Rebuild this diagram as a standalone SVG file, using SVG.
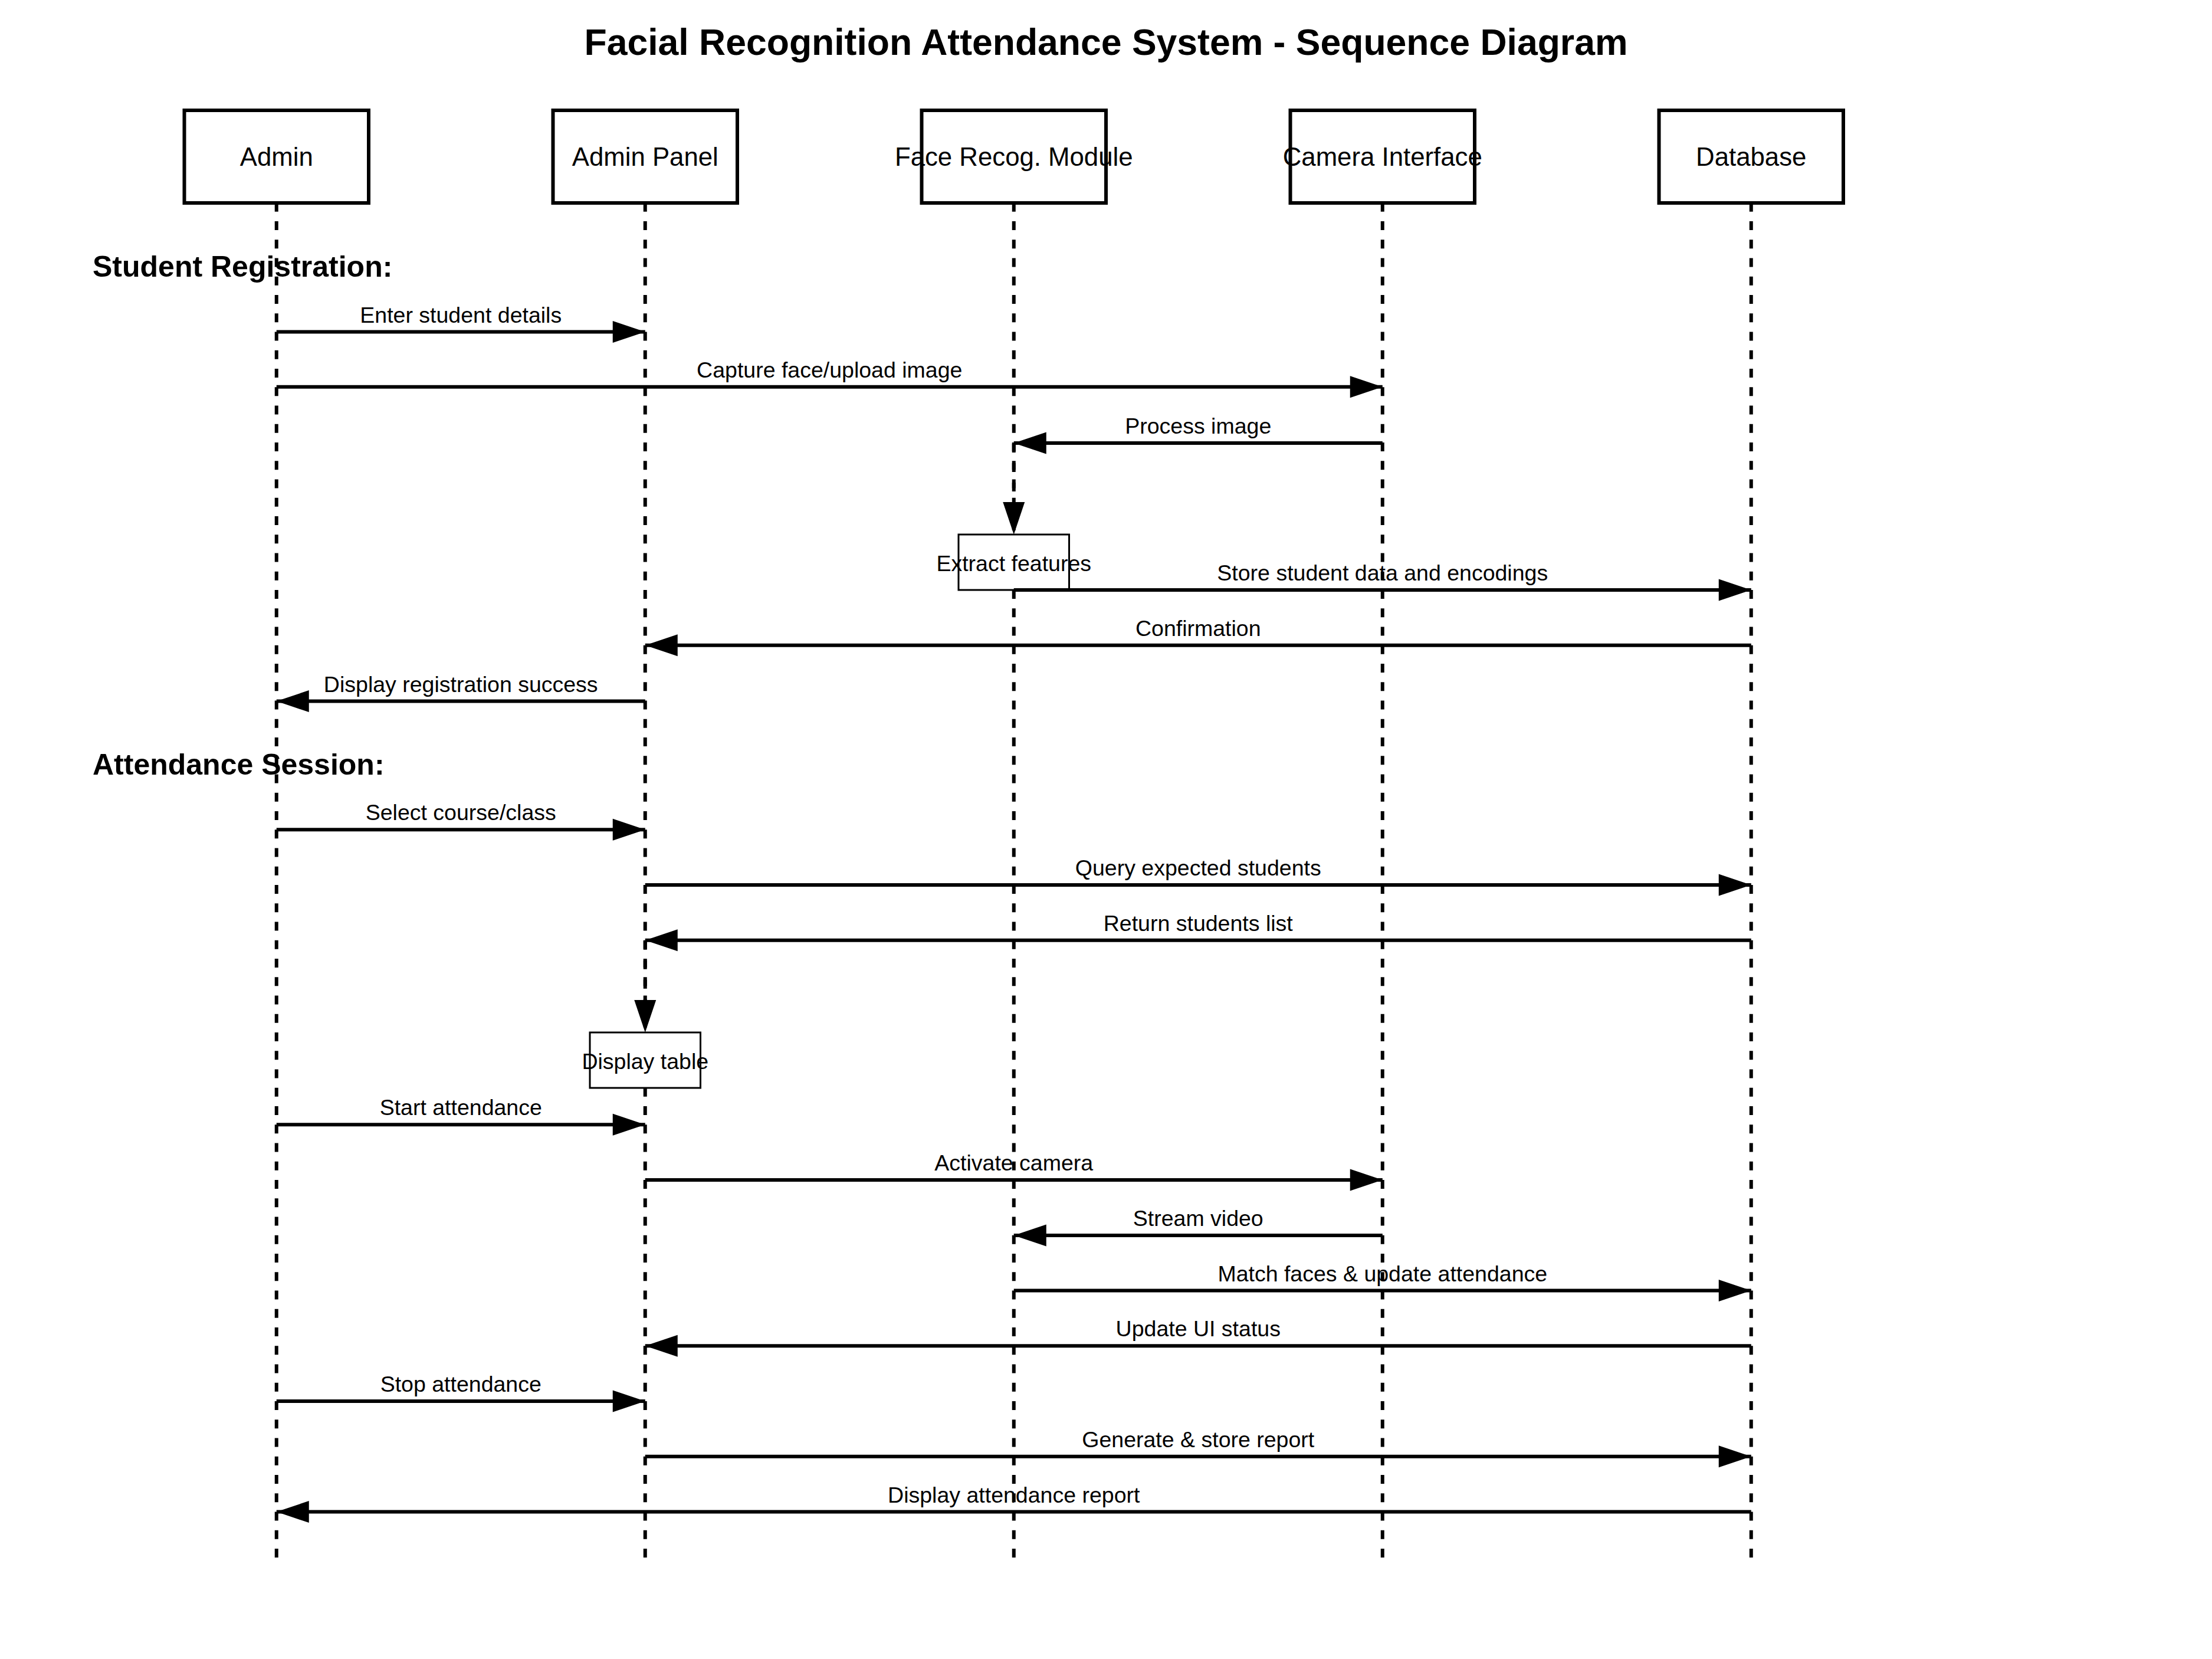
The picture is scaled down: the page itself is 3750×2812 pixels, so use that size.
<svg xmlns="http://www.w3.org/2000/svg" width="3750" height="2812" viewBox="0 0 3750 2812">
<style>
text{font-family:"Liberation Sans",Arial,sans-serif;fill:#000}
.title{font-size:62.5px;font-weight:bold;text-anchor:middle}
.hdr{font-size:50px;font-weight:bold}
.plbl{font-size:43.75px;text-anchor:middle}
.mlbl{font-size:37.5px;text-anchor:middle}
.pbox{fill:#fff;stroke:#000;stroke-width:6}
.abox{fill:#fff;stroke:#000;stroke-width:3}
.life{stroke:#000;stroke-width:6;stroke-dasharray:15 16.25;fill:none}
.msg{stroke:#000;stroke-width:6;fill:none;marker-end:url(#ah)}
.self{stroke:#000;stroke-width:6;fill:none;stroke-dasharray:15 18;marker-end:url(#ah)}
</style>
<defs>
<marker id="ah" markerUnits="userSpaceOnUse" markerWidth="56" markerHeight="38" refX="55" refY="18.5" orient="auto" overflow="visible">
<path d="M0,0 L55,18.5 L0,37 Z" fill="#000" stroke="none"/>
</marker>
</defs>
<rect width="3750" height="2812" fill="#fff"/>
<text class="title" x="1875" y="93">Facial Recognition Attendance System - Sequence Diagram</text>

<g id="lifelines">
<line class="life" x1="468.75" y1="343.75" x2="468.75" y2="2641"/>
<line class="life" x1="1093.75" y1="343.75" x2="1093.75" y2="2641"/>
<line class="life" x1="1718.75" y1="343.75" x2="1718.75" y2="2641"/>
<line class="life" x1="2343.75" y1="343.75" x2="2343.75" y2="2641"/>
<line class="life" x1="2968.75" y1="343.75" x2="2968.75" y2="2641"/>
</g>

<g id="admin"><rect class="pbox" x="312.5" y="187" width="312.5" height="157"/><text class="plbl" x="468.75" y="281">Admin</text></g>
<g id="admin-panel"><rect class="pbox" x="937.5" y="187" width="312.5" height="157"/><text class="plbl" x="1093.75" y="281">Admin Panel</text></g>
<g id="face-recog"><rect class="pbox" x="1562.5" y="187" width="312.5" height="157"/><text class="plbl" x="1718.75" y="281">Face Recog. Module</text></g>
<g id="camera"><rect class="pbox" x="2187.5" y="187" width="312.5" height="157"/><text class="plbl" x="2343.75" y="281">Camera Interface</text></g>
<g id="database"><rect class="pbox" x="2812.5" y="187" width="312.5" height="157"/><text class="plbl" x="2968.75" y="281">Database</text></g>

<text class="hdr" x="157" y="469">Student Registration:</text>
<text class="hdr" x="157" y="1313">Attendance Session:</text>

<g id="extract-features"><rect class="abox" x="1625" y="906" width="187.5" height="94"/><text class="mlbl" x="1718.75" y="968">Extract features</text></g>
<g id="display-table"><rect class="abox" x="1000" y="1750" width="187.5" height="94"/><text class="mlbl" x="1093.75" y="1812">Display table</text></g>

<g id="connectors">
<line class="msg" x1="468.75" y1="562.5" x2="1093.75" y2="562.5"/>
<line class="msg" x1="468.75" y1="655.75" x2="2343.75" y2="655.75"/>
<line class="msg" x1="2343.75" y1="751" x2="1718.75" y2="751"/>
<line class="self" x1="1718.75" y1="752" x2="1718.75" y2="906"/>
<line class="msg" x1="1718.75" y1="1000" x2="2968.75" y2="1000"/>
<line class="msg" x1="2968.75" y1="1093.75" x2="1093.75" y2="1093.75"/>
<line class="msg" x1="1093.75" y1="1188.5" x2="468.75" y2="1188.5"/>
<line class="msg" x1="468.75" y1="1406.25" x2="1093.75" y2="1406.25"/>
<line class="msg" x1="1093.75" y1="1500" x2="2968.75" y2="1500"/>
<line class="msg" x1="2968.75" y1="1593.75" x2="1093.75" y2="1593.75"/>
<line class="self" x1="1093.75" y1="1594.75" x2="1093.75" y2="1750"/>
<line class="msg" x1="468.75" y1="1906.25" x2="1093.75" y2="1906.25"/>
<line class="msg" x1="1093.75" y1="2000" x2="2343.75" y2="2000"/>
<line class="msg" x1="2343.75" y1="2094" x2="1718.75" y2="2094"/>
<line class="msg" x1="1718.75" y1="2187.5" x2="2968.75" y2="2187.5"/>
<line class="msg" x1="2968.75" y1="2281.25" x2="1093.75" y2="2281.25"/>
<line class="msg" x1="468.75" y1="2375" x2="1093.75" y2="2375"/>
<line class="msg" x1="1093.75" y1="2468.75" x2="2968.75" y2="2468.75"/>
<line class="msg" x1="2968.75" y1="2562.5" x2="468.75" y2="2562.5"/>
</g>

<g id="message-labels">
<text class="mlbl" x="781.25" y="546.5">Enter student details</text>
<text class="mlbl" x="1406.25" y="639.75">Capture face/upload image</text>
<text class="mlbl" x="2031.25" y="735">Process image</text>
<text class="mlbl" x="2343.75" y="984">Store student data and encodings</text>
<text class="mlbl" x="2031.25" y="1077.75">Confirmation</text>
<text class="mlbl" x="781.25" y="1172.5">Display registration success</text>
<text class="mlbl" x="781.25" y="1390.25">Select course/class</text>
<text class="mlbl" x="2031.25" y="1484">Query expected students</text>
<text class="mlbl" x="2031.25" y="1577.75">Return students list</text>
<text class="mlbl" x="781.25" y="1890.25">Start attendance</text>
<text class="mlbl" x="1718.75" y="1984">Activate camera</text>
<text class="mlbl" x="2031.25" y="2078">Stream video</text>
<text class="mlbl" x="2343.75" y="2171.5">Match faces &amp; update attendance</text>
<text class="mlbl" x="2031.25" y="2265.25">Update UI status</text>
<text class="mlbl" x="781.25" y="2359">Stop attendance</text>
<text class="mlbl" x="2031.25" y="2452.75">Generate &amp; store report</text>
<text class="mlbl" x="1718.75" y="2546.5">Display attendance report</text>
</g>
</svg>
